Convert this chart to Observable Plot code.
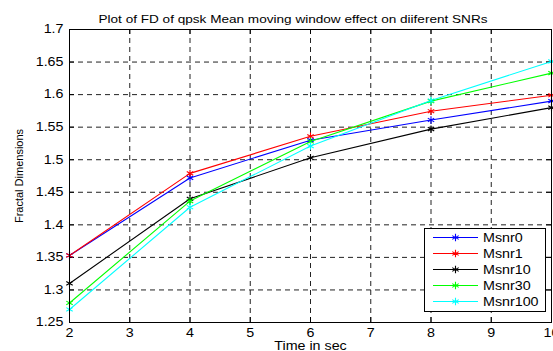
<!DOCTYPE html>
<html>
<head>
<meta charset="utf-8">
<script src="https://cdn.jsdelivr.net/npm/d3@7"></script>
<script src="https://cdn.jsdelivr.net/npm/@observablehq/plot@0.6"></script>
<style>
  html, body { margin: 0; padding: 0; background: white; }
  #chart { width: 553px; height: 351px; overflow: hidden; }
</style>
</head>
<body>
<div id="chart"></div>
<script>
const title = "Plot of FD of qpsk Mean moving window effect on diiferent SNRs";
const xLabel = "Time in sec";
const yLabel = "Fractal Dimensions";
const xTicks = [2, 3, 4, 5, 6, 7, 8, 9, 10];
const yTicks = [1.25, 1.3, 1.35, 1.4, 1.45, 1.5, 1.55, 1.6, 1.65, 1.7];
const times = [2, 4, 6, 8, 10];
const series = ["Msnr0", "Msnr1", "Msnr10", "Msnr30", "Msnr100"];
const colors = ["#0000ff", "#ff0000", "#000000", "#00ff00", "#00ffff"];
const msnr0 = [1.353, 1.472, 1.530, 1.561, 1.590];
const msnr1 = [1.353, 1.479, 1.536, 1.5745, 1.599];
const msnr10 = [1.310, 1.440, 1.503, 1.547, 1.580];
const msnr30 = [1.280, 1.4365, 1.528, 1.590, 1.633];
const msnr100 = [1.270, 1.427, 1.521, 1.591, 1.651];

const valuesBySeries = [msnr0, msnr1, msnr10, msnr30, msnr100];
const data = [];
series.forEach((s, i) => times.forEach((t, j) => data.push({s, t, v: valuesBySeries[i][j]})));

const W = 553, H = 351, mL = 69, mR = 2, mT = 29, mB = 29;
const fw = W - mL - mR, fh = H - mT - mB;
const gridStyle = {stroke: "#222", strokeOpacity: 1, strokeWidth: 1, strokeDasharray: "5,4"};

const chart = Plot.plot({
  width: W, height: H,
  marginLeft: mL, marginRight: mR, marginTop: mT, marginBottom: mB,
  style: {fontFamily: "'Liberation Sans', Arial, sans-serif", fontSize: "12px", color: "black", background: "white", overflow: "visible"},
  x: {domain: [2, 10], axis: null},
  y: {domain: [1.25, 1.7], axis: null},
  color: {domain: series, range: colors},
  marks: [
    Plot.gridX(xTicks.slice(1, -1), gridStyle),
    Plot.gridY(yTicks.slice(1, -1), gridStyle),
    Plot.tickX(xTicks, {x: d => d, insetTop: fh - 5, stroke: "black"}),
    Plot.tickX(xTicks, {x: d => d, insetBottom: fh - 5, stroke: "black"}),
    Plot.tickY(yTicks, {y: d => d, insetRight: fw - 5, stroke: "black"}),
    Plot.tickY(yTicks, {y: d => d, insetLeft: fw - 5, stroke: "black"}),
    Plot.line(data, {x: "t", y: "v", z: "s", stroke: "s", strokeWidth: 1.1}),
    Plot.dot(data, {x: "t", y: "v", stroke: "s", symbol: "asterisk", r: 3.5, strokeWidth: 1.1}),
    Plot.frame({stroke: "black", strokeWidth: 1}),
    Plot.axisX(xTicks, {tickSize: 0, tickPadding: 6, label: null, fontSize: 12}),
    Plot.axisY(yTicks, {tickSize: 0, tickPadding: 6, label: null, fontSize: 12, tickFormat: d => String(+d.toFixed(2))}),
    Plot.text([title], {text: d => d, frameAnchor: "top", dx: -17.5, dy: -14, fontSize: 11}),
    Plot.text([xLabel], {text: d => d, frameAnchor: "bottom", dy: 27, fontSize: 12}),
    Plot.text([yLabel], {text: d => d, frameAnchor: "left", textAnchor: "middle", dx: -50, rotate: -90, fontSize: 11})
  ]
});

document.getElementById("chart").appendChild(chart);

// Legend box inside the axes
const svg = d3.select(chart);
const lg = svg.append("g").attr("class", "legend")
  .attr("font-family", "'Liberation Sans', Arial, sans-serif").attr("font-size", 12).attr("text-anchor", "start");
lg.append("rect").attr("x", 424.5).attr("y", 228.5).attr("width", 121).attr("height", 83)
  .attr("fill", "white").attr("stroke", "black").attr("stroke-width", 1);
const asterisk = d3.symbol(d3.symbolAsterisk, 3.5 * 3.5 * Math.PI)();
series.forEach((s, i) => {
  const y = 237.5 + i * 16;
  lg.append("line").attr("x1", 433).attr("x2", 478).attr("y1", y).attr("y2", y).attr("stroke", colors[i]).attr("stroke-width", 1.1);
  lg.append("path").attr("d", asterisk).attr("transform", `translate(455.5,${y})`).attr("fill", "none").attr("stroke", colors[i]).attr("stroke-width", 1.1);
  lg.append("text").attr("x", 483).attr("y", y).attr("dy", "0.35em").attr("fill", "black").attr("text-anchor", "start").text(s);
});

// horizontal stretch of text to mimic the reference's wide lettering
chart.querySelectorAll("text").forEach(t => {
  const tr = t.getAttribute("transform") || "";
  if (tr.includes("rotate")) return;
  const len = t.getComputedTextLength();
  if (!len) return;
  const target = t.textContent === title ? 389 : len * 1.19;
  t.setAttribute("textLength", target);
  t.setAttribute("lengthAdjust", "spacingAndGlyphs");
});
</script>
</body>
</html>
